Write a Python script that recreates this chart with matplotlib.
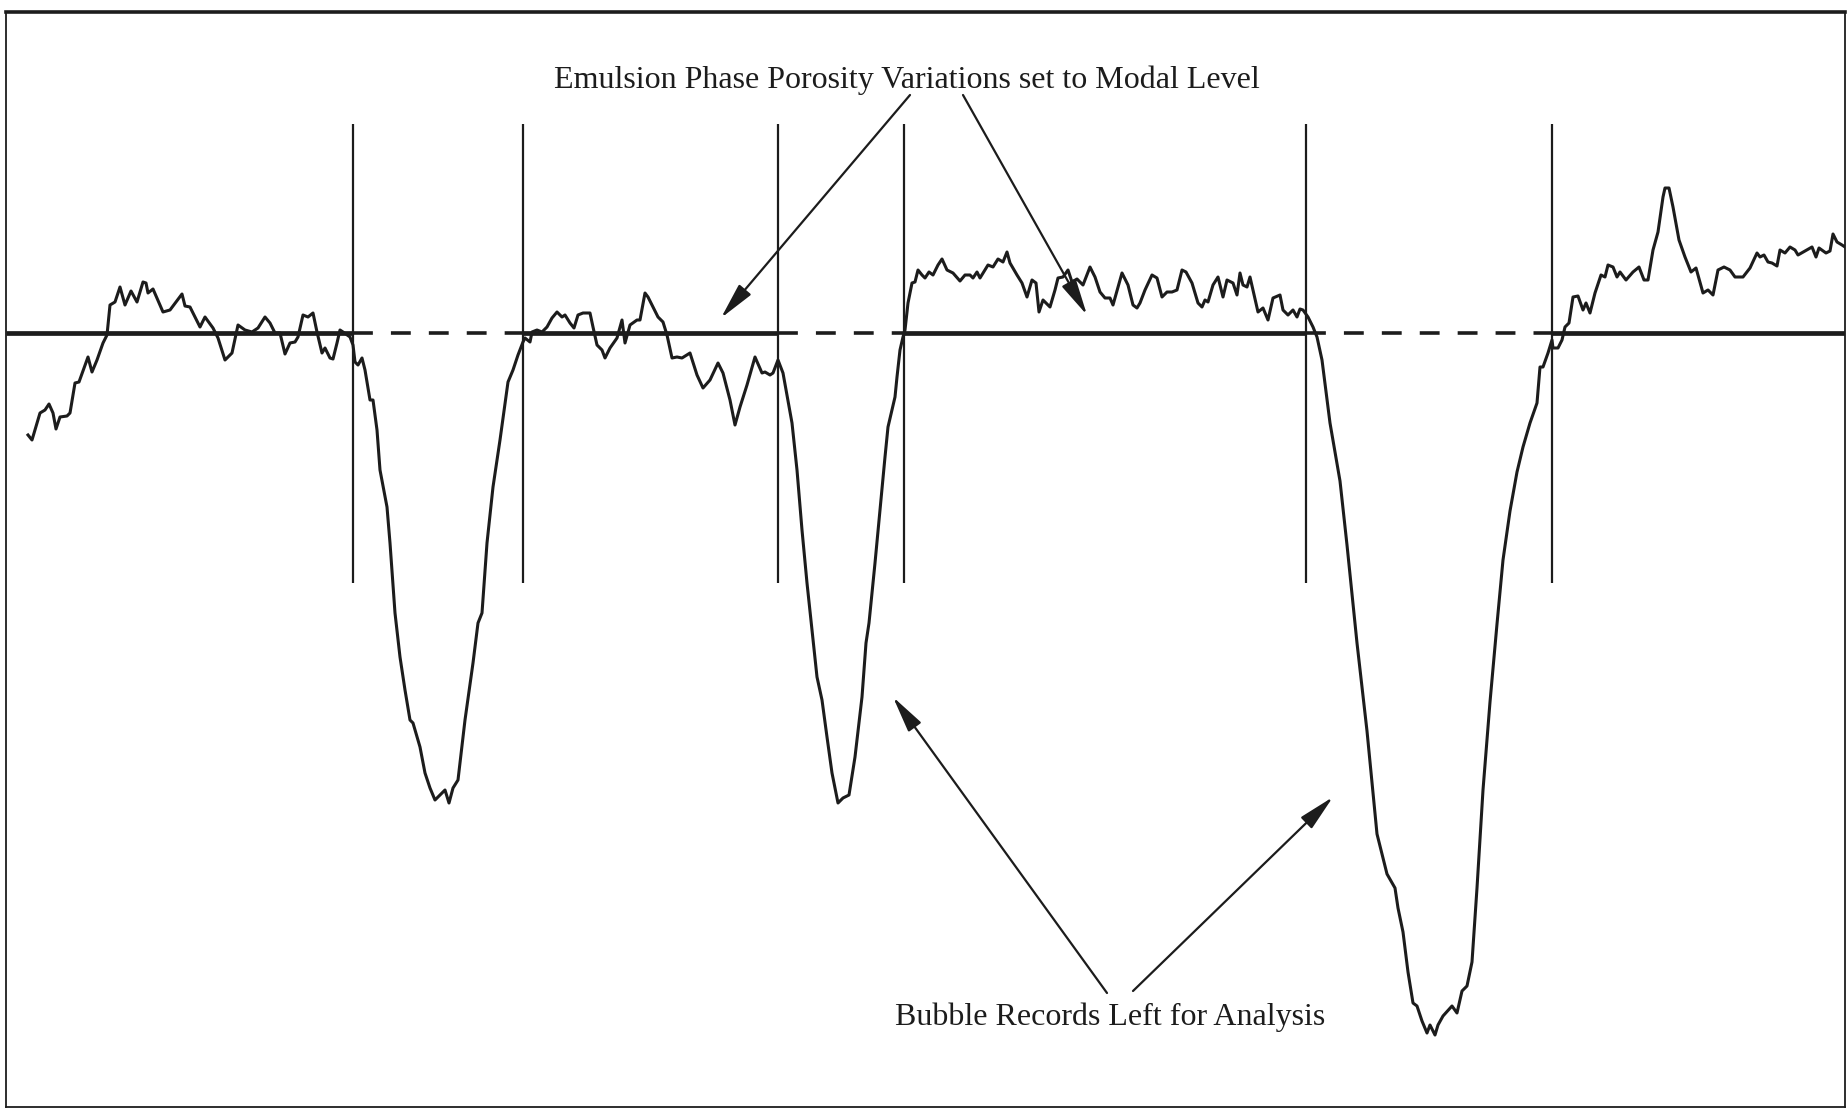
import matplotlib
matplotlib.use("Agg")
import matplotlib.pyplot as plt

# ---- data (x = sample position, signal = deviation from modal level) ----
trace_x = [28, 32, 40, 45, 49, 53, 56, 60, 67, 70, 75, 79, 88, 92, 97, 103, 107, 110, 115, 120,
           125, 131, 137, 143, 146, 148, 153, 163, 170, 182, 185, 190, 200, 205, 213, 218, 225, 232,
           238, 245, 252, 258, 265, 270, 275, 280, 285, 290, 295, 298, 303, 308, 313, 317, 322, 325,
           330, 333, 337, 340, 343, 350, 353, 355, 358, 362, 365, 370, 373, 377, 380, 387, 390, 395,
           400, 405, 410, 413, 420, 425, 430, 435, 440, 445, 449, 453, 458, 465, 473, 478, 482, 487,
           493, 500, 508, 513, 518, 523, 525, 530, 532, 537, 542, 547, 552, 557, 562, 565, 570, 574,
           578, 583, 590, 593, 597, 602, 605, 610, 617, 622, 625, 630, 637, 640, 645, 648, 653, 658,
           663, 667, 672, 677, 682, 690, 697, 703, 710, 718, 723, 730, 735, 740, 747, 755, 762, 765,
           770, 773, 778, 783, 792, 797, 802, 807, 812, 817, 822, 827, 832, 838, 843, 849, 855, 862,
           866, 869, 875, 880, 885, 888, 892, 895, 897, 900, 903, 905, 908, 912, 915, 918, 922, 925,
           929, 933, 938, 942, 947, 953, 960, 965, 970, 973, 977, 980, 985, 988, 993, 998, 1003, 1007,
           1010, 1017, 1022, 1027, 1032, 1036, 1039, 1043, 1050, 1055, 1058, 1063, 1068, 1072, 1077,
           1083, 1090, 1095, 1100, 1105, 1110, 1113, 1122, 1128, 1133, 1137, 1140, 1145, 1152, 1157,
           1162, 1167, 1172, 1177, 1182, 1186, 1192, 1198, 1202, 1205, 1208, 1213, 1218, 1223, 1227,
           1233, 1237, 1240, 1243, 1247, 1250, 1253, 1258, 1263, 1268, 1273, 1280, 1283, 1288, 1293,
           1297, 1300, 1303, 1308, 1313, 1317, 1322, 1330, 1340, 1347, 1357, 1367, 1377, 1387, 1395,
           1398, 1403, 1408, 1413, 1417, 1422, 1427, 1430, 1435, 1438, 1443, 1452, 1457, 1462, 1467,
           1472, 1477, 1483, 1490, 1497, 1503, 1510, 1517, 1523, 1530, 1537, 1540, 1543, 1548, 1552,
           1553, 1558, 1562, 1565, 1569, 1573, 1578, 1583, 1586, 1590, 1595, 1601, 1605, 1608, 1613,
           1617, 1620, 1626, 1633, 1639, 1644, 1648, 1653, 1658, 1663, 1665, 1669, 1673, 1679, 1685,
           1691, 1696, 1703, 1708, 1713, 1718, 1724, 1730, 1735, 1743, 1750, 1757, 1760, 1764, 1768,
           1772, 1777, 1780, 1785, 1790, 1795, 1798, 1805, 1812, 1816, 1819, 1826, 1830, 1833, 1837,
           1842, 1845]
trace_y = [-102, -107, -80, -77, -71, -80, -96, -84, -83, -80, -50, -49, -24, -39, -27, -10, -2, 28, 31, 46,
           28, 42, 31, 51, 50, 40, 44, 21, 23, 39, 27, 26, 6, 16, 5, -5, -27, -20,
           8, 3, 1, 5, 16, 10, 0, 0, -21, -10, -9, -4, 18, 16, 20, 1, -20, -15,
           -25, -26, -10, 3, 1, -4, -12, -29, -32, -25, -37, -67, -67, -97, -137, -174, -210, -280,
           -324, -357, -387, -390, -414, -440, -455, -467, -462, -457, -470, -455, -447, -387, -330, -290, -280, -210,
           -154, -107, -49, -37, -22, -9, -5, -9, 1, 3, 1, 6, 15, 21, 16, 18, 10, 5,
           18, 20, 20, 6, -12, -17, -25, -15, -5, 13, -10, 8, 13, 13, 40, 36, 26, 16,
           11, -2, -25, -24, -25, -20, -42, -55, -47, -30, -40, -67, -92, -74, -52, -24, -40, -39,
           -42, -40, -27, -40, -90, -137, -197, -250, -297, -344, -367, -404, -440, -470, -465, -462, -424, -364,
           -310, -290, -230, -177, -124, -94, -77, -64, -44, -17, -4, 3, 30, 50, 51, 63, 58, 55,
           61, 58, 68, 74, 63, 60, 52, 58, 58, 55, 61, 55, 63, 68, 66, 74, 71, 81,
           70, 58, 50, 36, 53, 50, 21, 33, 26, 43, 55, 56, 63, 51, 54,
           48, 66, 56, 41, 35, 35, 28, 60, 48, 28, 25, 30, 43, 58, 55,
           36, 41, 41, 43, 63, 61, 50, 30, 26, 33, 31, 48, 56, 36, 53,
           50, 38, 60, 48, 46, 56, 43, 21, 25, 13, 35, 38, 23, 18, 23,
           16, 24, 23, 16, 6, -4, -27, -90, -148, -212, -310, -398, -501, -541, -555,
           -575, -599, -639, -670, -673, -688, -700, -692, -702, -692, -683, -673, -680, -658, -653,
           -629, -555, -457, -369, -291, -227, -178, -139, -114, -90, -70, -34, -34, -20, -7,
           -15, -15, -7, 6, 10, 36, 37, 23, 30, 20, 40, 58, 56, 68, 66,
           56, 61, 53, 61, 66, 53, 53, 83, 101, 136, 145, 145, 126, 93, 76,
           61, 65, 40, 43, 38, 63, 66, 63, 56, 56, 65, 80, 76, 78, 71,
           70, 67, 83, 80, 86, 83, 78, 82, 86, 76, 85, 80, 82, 99, 91,
           88, 86]

modal_level = 0
bubble_bounds = [353, 523, 778, 904, 1306, 1552]   # vertical markers at bubble edges
marker_top, marker_bottom = 209, -250
x_range = (6, 1845)
y_range = (-774, 321)

top_label = "Emulsion Phase Porosity Variations set to Modal Level"
bottom_label = "Bubble Records Left for Analysis"
top_arrows = [((910, 238), (721, 15)), ((963, 238), (1087, 18))]
bottom_arrows = [((1107, -660), (893, -364)), ((1133, -658), (1333, -464))]

ink = "#1c1c1c"

fig = plt.figure(figsize=(18.47, 11.10), dpi=100)
ax = fig.add_axes([6 / 1847, 3 / 1110, 1839 / 1847, 1095 / 1110])
ax.set_xlim(*x_range)
ax.set_ylim(*y_range)
ax.set_xticks([])
ax.set_yticks([])
for name, sp in ax.spines.items():
    sp.set_color(ink)
    sp.set_linewidth(2.6 if name == "top" else 1.3)

# modal level: solid inside emulsion phases, dashed across bubbles
edges = [x_range[0]] + bubble_bounds + [x_range[1]]
for i in range(len(edges) - 1):
    if i % 2 == 0:
        ax.plot([edges[i], edges[i + 1]], [modal_level, modal_level], color=ink,
                lw=3.4, solid_capstyle="butt", zorder=2)
    else:
        ax.plot([edges[i], edges[i + 1]], [modal_level, modal_level], color=ink,
                lw=2.6, dashes=(5.5, 5.0), dash_capstyle="butt", zorder=2)

ax.vlines(bubble_bounds, marker_bottom, marker_top, color=ink, lw=1.6, zorder=2)

ax.plot(trace_x, trace_y, color=ink, lw=2.2, solid_joinstyle="round", zorder=3)

font = ["Liberation Serif", "DejaVu Serif"]
ax.text(907, 245, top_label, ha="center", va="baseline", fontsize=23,
        family=font, color=ink)
ax.text(1110, -692, bottom_label, ha="center", va="baseline", fontsize=23,
        family=font, color=ink)

arrow_style = dict(arrowstyle="-|>,head_length=1.4,head_width=0.3", color=ink,
                   lw=1.6, mutation_scale=16, shrinkA=0, shrinkB=0)
for tail, tip in top_arrows + bottom_arrows:
    ax.annotate("", xy=tip, xytext=tail, arrowprops=arrow_style)

fig.savefig("out.png", dpi=100, facecolor="white")
